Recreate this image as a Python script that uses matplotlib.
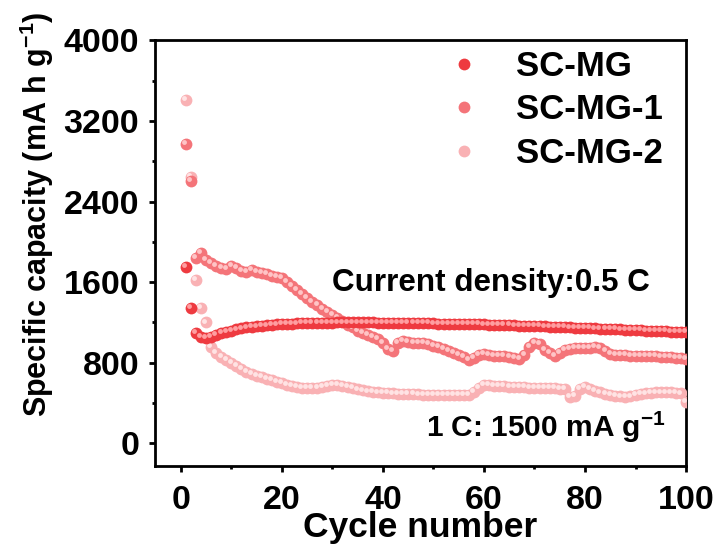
import numpy as np
import matplotlib
matplotlib.use("Agg")
import matplotlib.pyplot as plt
import matplotlib.transforms as mtransforms
from matplotlib.lines import Line2D
from matplotlib.ticker import MultipleLocator

plt.rcParams["font.family"] = ["Liberation Sans", "DejaVu Sans"]
plt.rcParams["font.weight"] = "bold"
plt.rcParams["mathtext.fontset"] = "custom"
plt.rcParams["mathtext.bf"] = "Liberation Sans:bold"
plt.rcParams["mathtext.rm"] = "Liberation Sans:bold"

cycles = np.arange(1, 101)

sc_mg = [
    1746, 1340, 1100, 1060, 1050, 1060, 1080, 1100, 1110, 1120,
    1130, 1140, 1150, 1155, 1160, 1165, 1170, 1175, 1180, 1182,
    1185, 1188, 1190, 1192, 1194, 1195, 1196, 1197, 1198, 1198,
    1200, 1200, 1200, 1200, 1200, 1200, 1200, 1200, 1198, 1198,
    1197, 1196, 1196, 1195, 1194, 1193, 1193, 1192, 1191, 1190,
    1189, 1188, 1187, 1186, 1185, 1184, 1183, 1182, 1181, 1180,
    1178, 1176, 1175, 1174, 1172, 1170, 1168, 1166, 1165, 1163,
    1161, 1160, 1158, 1156, 1154, 1152, 1150, 1148, 1146, 1144,
    1142, 1140, 1138, 1136, 1134, 1132, 1130, 1128, 1126, 1124,
    1122, 1120, 1118, 1116, 1114, 1112, 1110, 1108, 1106, 1104,
]

sc_mg_1 = [
    2973, 2607, 1840, 1890, 1820, 1790, 1760, 1740, 1730, 1760,
    1740, 1710, 1700, 1720, 1700, 1690, 1680, 1660, 1650, 1640,
    1600, 1560, 1520, 1480, 1440, 1400, 1370, 1330, 1300, 1270,
    1240, 1210, 1170, 1150, 1120, 1100, 1080, 1060, 1040, 1000,
    940, 920, 1000, 1020, 1010, 1000, 1000, 995, 990, 970,
    960, 940, 920, 900, 880, 860, 830, 850, 880, 890,
    880, 870, 870, 865, 860, 850, 840, 880, 960, 1000,
    990, 930, 900, 870, 900, 930, 940, 945, 950, 950,
    950, 955, 945, 920, 890, 880, 880, 875, 870, 870,
    870, 868, 865, 865, 860, 860, 855, 850, 845, 840,
]

sc_mg_2 = [
    3405, 2643, 1620, 1340, 1200, 960, 900, 860, 830, 800,
    770, 740, 710, 690, 670, 655, 640, 625, 610, 595,
    580, 565, 555, 550, 545, 545, 550, 560, 570, 578,
    575, 565, 555, 545, 535, 525, 515, 510, 505, 500,
    497, 495, 493, 490, 488, 486, 485, 484, 483, 482,
    481, 480, 479, 478, 477, 476, 478, 510, 550, 575,
    575, 570, 568, 565, 563, 560, 558, 555, 553, 550,
    548, 546, 545, 545, 543, 540, 460, 470, 540, 558,
    540, 520, 505, 490, 480, 470, 465, 460, 465, 480,
    490, 495, 500, 505, 505, 505, 505, 500, 495, 410,
]

labels = ["SC-MG", "SC-MG-1", "SC-MG-2"]
colors = ["#ee3a40", "#f47479", "#f9b1b4"]
highlights = ["#ff9ea1", "#ffc4c6", "#ffe3e4"]

fig = plt.figure(figsize=(7.15, 5.48), dpi=100)
ax = fig.add_axes([0.2168, 0.1496, 0.7427, 0.7768])

series = [sc_mg, sc_mg_1, sc_mg_2]
hl_offset = mtransforms.offset_copy(ax.transData, fig=fig, x=-1.2, y=1.4, units="points")

# draw the faintest series first so SC-MG ends up on top
for i in [2, 1, 0]:
    ax.plot(cycles, series[i], "o", ms=8.5, color=colors[i], mec="none", zorder=3 + (2 - i) * 2)
    ax.plot(cycles, series[i], "o", ms=3.5, color=highlights[i], mec="none",
            transform=hl_offset, zorder=4 + (2 - i) * 2)

ax.set_xlim(-5.1, 100)
ax.set_ylim(-225, 4000)
ax.set_xticks([0, 20, 40, 60, 80, 100])
ax.set_yticks([0, 800, 1600, 2400, 3200, 4000])
ax.xaxis.set_minor_locator(MultipleLocator(10))
ax.yaxis.set_minor_locator(MultipleLocator(400))

for s in ax.spines.values():
    s.set_linewidth(2)
ax.tick_params(which="major", direction="out", length=4.3, width=2, labelsize=24.5)
ax.tick_params(axis="x", which="major", pad=9.5)
ax.tick_params(axis="y", which="major", pad=7)
ax.tick_params(which="minor", direction="out", length=2.2, width=2)
ax.tick_params(top=False, right=False, which="both")

ax.set_xlabel("Cycle number", fontsize=25.5, fontweight="bold", labelpad=-4)
ax.set_ylabel("Specific capacity (mA h g$^{\\mathbf{-1}}$)", fontsize=22, fontweight="bold")
ax.yaxis.set_label_coords(-0.186, 0.592)

ax.text(0.932, 0.431, "Current density:0.5 C", transform=ax.transAxes, ha="right",
        va="center", fontsize=22.6, fontweight="bold")
ax.text(0.962, 0.091, "1 C: 1500 mA g$^{\\mathbf{-1}}$", transform=ax.transAxes, ha="right",
        va="center", fontsize=21.5, fontweight="bold")

handles = [Line2D([], [], ls="none", marker="o", ms=8.5, color=c, mec="none") for c in colors]
ax.legend(handles, labels, loc="upper left", bbox_to_anchor=(0.523, 1.01), frameon=False,
          prop={"weight": "bold", "size": 25}, handlelength=1.0, handletextpad=1.0,
          labelspacing=0.3, borderaxespad=0.0)

fig.savefig("out.png", dpi=100)
